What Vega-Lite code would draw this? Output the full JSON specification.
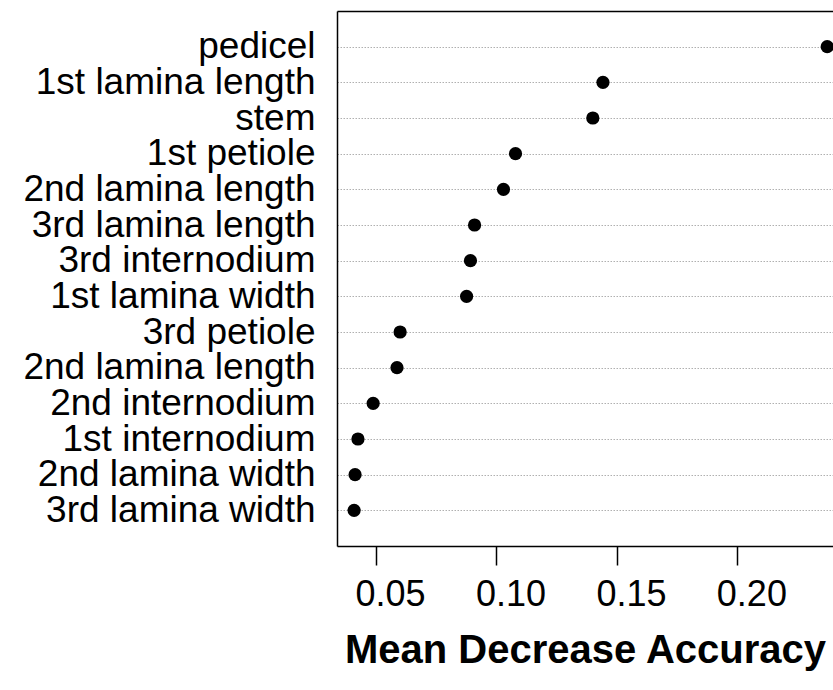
{
  "$schema": "https://vega.github.io/schema/vega-lite/v6.json",
  "autosize": {"type": "none"},
  "padding": {"left": 337, "top": 11, "right": 0, "bottom": 144},
  "width": 496,
  "height": 535,
  "background": "white",
  "config": {
    "view": {"stroke": null},
    "font": "Liberation Sans"
  },
  "data": {
    "values": [
      {"rank": 1, "variable": "pedicel", "mda": 0.2373},
      {"rank": 2, "variable": "1st lamina length", "mda": 0.1442},
      {"rank": 3, "variable": "stem", "mda": 0.1400},
      {"rank": 4, "variable": "1st petiole", "mda": 0.1079},
      {"rank": 5, "variable": "2nd lamina length", "mda": 0.1029},
      {"rank": 6, "variable": "3rd lamina length", "mda": 0.0909},
      {"rank": 7, "variable": "3rd internodium", "mda": 0.0892},
      {"rank": 8, "variable": "1st lamina width", "mda": 0.0876},
      {"rank": 9, "variable": "3rd petiole", "mda": 0.0600},
      {"rank": 10, "variable": "2nd lamina length", "mda": 0.0587},
      {"rank": 11, "variable": "2nd internodium", "mda": 0.0488},
      {"rank": 12, "variable": "1st internodium", "mda": 0.0425},
      {"rank": 13, "variable": "2nd lamina width", "mda": 0.0413},
      {"rank": 14, "variable": "3rd lamina width", "mda": 0.0409}
    ]
  },
  "encoding": {
    "y": {
      "field": "rank",
      "type": "ordinal",
      "scale": {"type": "point", "padding": 1},
      "axis": {
        "title": null,
        "orient": "left",
        "ticks": false,
        "domain": true,
        "domainColor": "black",
        "domainWidth": 1.5,
        "labelExpr": "['pedicel','1st lamina length','stem','1st petiole','2nd lamina length','3rd lamina length','3rd internodium','1st lamina width','3rd petiole','2nd lamina length','2nd internodium','1st internodium','2nd lamina width','3rd lamina width'][datum.value-1]",
        "labelFontSize": 37,
        "labelLimit": 0,
        "labelColor": "black",
        "labelPadding": 22,
        "labelAlign": "right",
        "labelBaseline": "middle",
        "labelOverlap": false,
        "grid": true,
        "gridColor": "#b0b0b0",
        "gridDash": [1.5, 1.5],
        "gridWidth": 1
      }
    }
  },
  "layer": [
    {
      "mark": {"type": "circle", "opacity": 0},
      "encoding": {
        "x": {
          "field": "mda",
          "type": "quantitative",
          "scale": {"domain": [0.0338, 0.2397], "nice": false, "zero": false},
          "axis": {
            "orient": "top",
            "title": null,
            "labels": false,
            "ticks": false,
            "grid": false,
            "domain": true,
            "domainColor": "black",
            "domainWidth": 1.5
          }
        }
      }
    },
    {
      "mark": {"type": "circle", "color": "black", "opacity": 1, "size": 175},
      "encoding": {
        "x": {
          "field": "mda",
          "type": "quantitative",
          "scale": {"domain": [0.0338, 0.2397], "nice": false, "zero": false},
          "axis": {
            "orient": "bottom",
            "title": "Mean Decrease Accuracy",
            "titleFontSize": 40,
            "titleFontWeight": "bold",
            "titleColor": "black",
            "titlePadding": 18,
            "titleAnchor": "middle",
            "values": [0.05, 0.1, 0.15, 0.2],
            "format": ".2f",
            "labelFontSize": 36,
            "labelColor": "black",
            "labelPadding": 12,
            "labelOffset": 14,
            "ticks": true,
            "tickSize": 19,
            "tickWidth": 1.5,
            "tickColor": "black",
            "grid": false,
            "domain": true,
            "domainColor": "black",
            "domainWidth": 1.5
          }
        }
      }
    }
  ],
  "resolve": {"axis": {"x": "independent"}}
}
